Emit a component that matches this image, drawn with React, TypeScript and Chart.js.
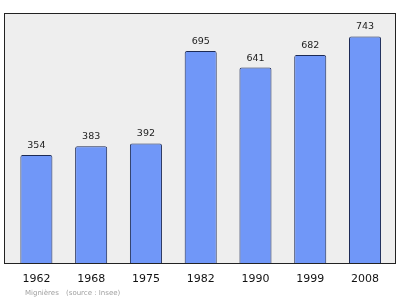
import React, { useEffect, useRef } from "react";
import { Chart, registerables } from "chart.js";

Chart.register(...registerables);

const years = ["1962", "1968", "1975", "1982", "1990", "1999", "2008"];
const population = [354, 383, 392, 695, 641, 682, 743];
const footerName = "Mignières";
const footerSource = "(source : Insee)";

const framePlugin = {
  id: "frame",
  beforeDraw(chart: any) {
    const { ctx, chartArea } = chart;
    ctx.save();
    ctx.fillStyle = "#ffffff";
    ctx.fillRect(0, 0, chart.width, chart.height);
    const x0 = chartArea.left - 5;
    const x1 = chartArea.right + 2.6;
    ctx.fillStyle = "#eeeeee";
    ctx.fillRect(x0, chartArea.top, x1 - x0, chartArea.bottom - chartArea.top);
    ctx.strokeStyle = "#222222";
    ctx.lineWidth = 1;
    ctx.strokeRect(Math.round(x0) + 0.5, Math.round(chartArea.top) + 0.5, Math.round(x1 - x0), Math.round(chartArea.bottom - chartArea.top));
    ctx.restore();
  },
  afterDatasetsDraw(chart: any) {
    const { ctx } = chart;
    const meta = chart.getDatasetMeta(0);
    ctx.save();
    ctx.font = "9.5px 'DejaVu Sans'";
    ctx.fillStyle = "#222222";
    ctx.textAlign = "center";
    ctx.textBaseline = "alphabetic";
    meta.data.forEach((bar: any, i: number) => {
      ctx.fillText(String(population[i]), bar.x, bar.y - 7);
    });
    ctx.font = "7px 'DejaVu Sans'";
    ctx.fillStyle = "#a0a0a0";
    ctx.textAlign = "left";
    ctx.textBaseline = "middle";
    ctx.fillText(footerName, 25, 293);
    ctx.fillText(footerSource, 66, 293);
    ctx.restore();
  },
};

export default function App() {
  const ref = useRef<HTMLCanvasElement>(null);
  useEffect(() => {
    document.body.style.margin = "0";
    const chart = new Chart(ref.current!, {
      type: "bar",
      data: {
        labels: years,
        datasets: [
          {
            data: population,
            backgroundColor: "#7097f8",
            borderColor: "#1c2a55",
            borderWidth: 1,
            borderRadius: 2,
            borderSkipped: "bottom",
            barPercentage: 0.585,
            categoryPercentage: 1,
          },
        ],
      },
      options: {
        animation: false,
        responsive: false,
        layout: { padding: { left: 9, right: 7.6, top: 13, bottom: 10.8 } },
        plugins: { legend: { display: false }, tooltip: { enabled: false } },
        scales: {
          x: {
            grid: { display: false },
            border: { display: false },
            ticks: { font: { family: "'DejaVu Sans'", size: 11 }, color: "#111111", padding: 2 },
          },
          y: { display: false, min: 0, max: 820 },
        },
      },
      plugins: [framePlugin],
    });
    return () => chart.destroy();
  }, []);
  return <canvas ref={ref} width={400} height={299} />;
}
